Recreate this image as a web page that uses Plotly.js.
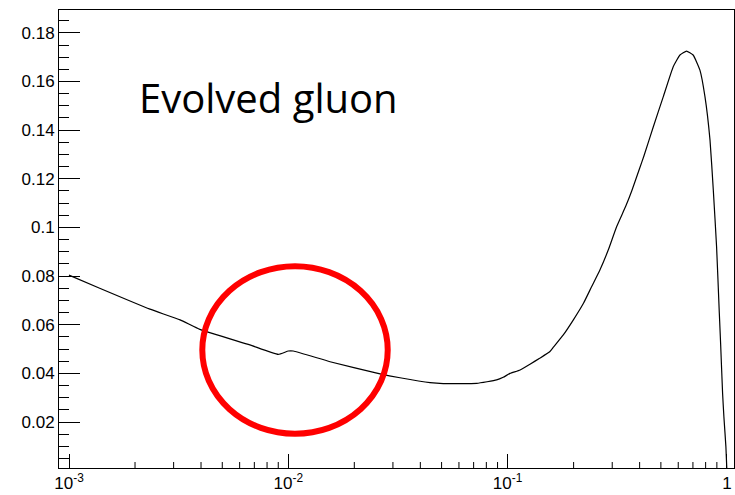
<!DOCTYPE html>
<html>
<head>
<meta charset="utf-8">
<script src="https://cdn.plot.ly/plotly-3.0.1.min.js"></script>
<style>html,body{margin:0;padding:0;background:#fff;}#chart{width:735px;height:495px;}</style>
</head>
<body>
<div id="chart"></div>
<script>
// Evolved gluon distribution
const xValues = [0.001, 0.00138, 0.00234, 0.00321, 0.00395, 0.00668, 0.0090, 0.0100, 0.01054, 0.0155,
  0.0262, 0.0323, 0.0443, 0.0509, 0.0723, 0.0891, 0.0955, 0.1026, 0.1140, 0.1265,
  0.1406, 0.1560, 0.1618, 0.1795, 0.1995, 0.2218, 0.2415, 0.2636, 0.2877, 0.3141,
  0.3467, 0.3681, 0.3990, 0.4188, 0.4619, 0.5129, 0.5692, 0.6109, 0.6546, 0.7015,
  0.7534, 0.7943, 0.8375, 0.8670, 0.8974, 0.9235, 0.9361, 0.9558, 0.9689, 0.9895, 1.0];
const gluonValues = [0.0804, 0.0750, 0.0664, 0.0620, 0.0581, 0.0517, 0.0478, 0.0492, 0.0492, 0.0448,
  0.0398, 0.0382, 0.0362, 0.0358, 0.0359, 0.0373, 0.0384, 0.0400, 0.0414, 0.0438,
  0.0463, 0.0490, 0.0508, 0.0558, 0.0620, 0.0688, 0.0756, 0.0825, 0.0907, 0.1003,
  0.1090, 0.1150, 0.1240, 0.1295, 0.1414, 0.1538, 0.1661, 0.1709, 0.1725, 0.1709,
  0.1647, 0.1538, 0.1359, 0.1154, 0.0921, 0.0647, 0.0524, 0.0318, 0.0222, 0.0099, 0.0];

const xTickVals = [0.001, 0.01, 0.1, 1];
const xTickText = ["10<sup>-3</sup>", "10<sup>-2</sup>", "10<sup>-1</sup>", "1"];
const xMinorTickVals = [0.002, 0.003, 0.004, 0.005, 0.006, 0.007, 0.008, 0.009,
  0.02, 0.03, 0.04, 0.05, 0.06, 0.07, 0.08, 0.09,
  0.2, 0.3, 0.4, 0.5, 0.6, 0.7, 0.8, 0.9];
const yTickVals = [0.02, 0.04, 0.06, 0.08, 0.1, 0.12, 0.14, 0.16, 0.18];
const yTickText = ["0.02", "0.04", "0.06", "0.08", "0.1", "0.12", "0.14", "0.16", "0.18"];
const labelText = "Evolved gluon";

const tickFont = {family: "Liberation Sans, Arial, sans-serif", size: 17, color: "#000"};

const trace = {
  x: xValues, y: gluonValues, type: "scatter", mode: "lines",
  line: {color: "#000", width: 1.2, shape: "spline", smoothing: 0.4}, hoverinfo: "skip"
};

// minor tick marks of the log x axis, placed by the axis at each value
const minorTickShapes = xMinorTickVals.map(v => ({
  type: "line", xref: "x", x0: v, x1: v,
  yref: "paper", ysizemode: "pixel", yanchor: 0, y0: 0, y1: 6,
  line: {color: "#000", width: 1}, layer: "above"
}));

const layout = {
  width: 735, height: 495,
  margin: {l: 59, r: 1, t: 10, b: 27, pad: 0},
  paper_bgcolor: "#fff", plot_bgcolor: "#fff",
  showlegend: false,
  xaxis: {
    type: "log", range: [-3.0456, 0.0324],
    tickmode: "array", tickvals: xTickVals, ticktext: xTickText,
    ticks: "inside", ticklen: 14, tickwidth: 1, tickcolor: "#000",
    showgrid: false, zeroline: false,
    showline: true, linecolor: "#000", linewidth: 1, mirror: true,
    tickfont: tickFont
  },
  yaxis: {
    range: [0.0011, 0.1894],
    tickmode: "array", tickvals: yTickVals, ticktext: yTickText,
    ticks: "inside", ticklen: 21, tickwidth: 1, tickcolor: "#000",
    minor: {ticks: "inside", ticklen: 10, tickwidth: 1, tickcolor: "#000", dtick: 0.005, tick0: 0, showgrid: false},
    showgrid: false, zeroline: false,
    showline: true, linecolor: "#000", linewidth: 1, mirror: true,
    tickfont: tickFont
  },
  annotations: [{
    text: labelText, xref: "paper", yref: "paper",
    x: 0.1151, y: 0.808, xanchor: "left", yanchor: "middle",
    showarrow: false,
    font: {family: "Open Sans, Noto Sans, sans-serif", size: 40, color: "#000"}
  }],
  shapes: [{
    type: "circle", xref: "paper", yref: "paper",
    x0: 0.2123, x1: 0.4870, y0: 0.0749, y1: 0.4404,
    line: {color: "#ff0000", width: 6}, fillcolor: "rgba(0,0,0,0)"
  }].concat(minorTickShapes)
};

Plotly.newPlot("chart", [trace], layout, {displayModeBar: false, staticPlot: true});
</script>
</body>
</html>
